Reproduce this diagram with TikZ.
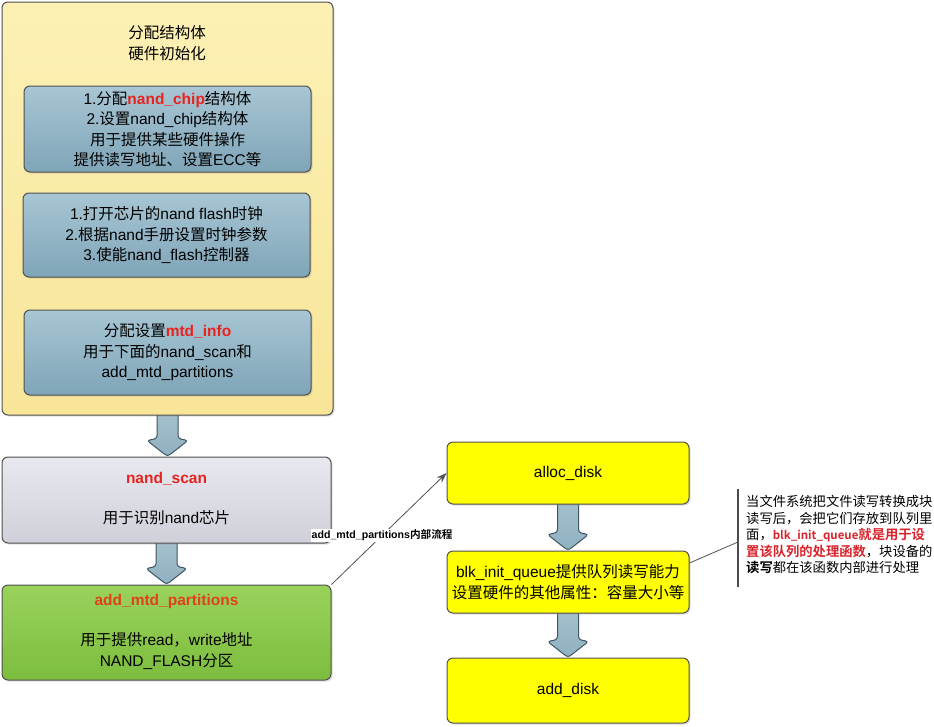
\documentclass[tikz,border=0pt]{standalone}
\usepackage{fontspec}
\setmainfont{Noto Sans CJK SC}[BoldFont={Noto Sans CJK SC Bold}]
\newfontfamily\lat{Liberation Sans}
\usetikzlibrary{calc,shadows,arrows.meta}
\pgfdeclarelayer{background}
\pgfsetlayers{background,main}
\definecolor{boxline}{HTML}{505050}
\definecolor{ylwtop}{HTML}{FCF0B4}
\definecolor{ylwbot}{HTML}{F8E598}
\definecolor{bluetop}{HTML}{A8C6D4}
\definecolor{bluebot}{HTML}{7FA5B8}
\definecolor{graytop}{HTML}{E8E8EF}
\definecolor{graybot}{HTML}{D0D0DA}
\definecolor{greentop}{HTML}{9AD25C}
\definecolor{greenbot}{HTML}{7CBD3E}
\definecolor{pureyellow}{HTML}{FFFF00}
\definecolor{redtxt}{HTML}{E8221E}
\definecolor{orangered}{HTML}{E0401A}
\definecolor{arrowfill}{HTML}{8FB1C1}
\definecolor{arrowline}{HTML}{3F5560}
\definecolor{annred}{HTML}{D8242C}
\newcommand\lt[1]{{\lat #1}}
\newcommand\barrow[2]{%
  \draw[blockarrow] let \p1=(#1.south), \p2=(#2.north) in
    (\x1-10.5pt,\y1+4pt) -- (\x1-10.5pt,\y2+18pt) -- (\x1-20.5pt,\y2+16pt) --
    (\x1,\y2) -- (\x1+20.5pt,\y2+16pt) -- (\x1+10.5pt,\y2+18pt) --
    (\x1+10.5pt,\y1+4pt) -- cycle;}
\begin{document}
\begin{tikzpicture}[x=1pt,y=-1pt,
  every node/.style={font=\fontsize{15.5}{20.5}\selectfont, align=center, inner sep=0pt},
  box/.style={draw=boxline, line width=1pt, rounded corners=6pt,
    drop shadow={shadow xshift=1.5pt, shadow yshift=-1.5pt, opacity=0.25}},
  bigbox/.style={box, top color=ylwtop, bottom color=ylwbot,
    minimum width=331pt, minimum height=413pt},
  innerbox/.style={box, top color=bluetop, bottom color=bluebot,
    minimum width=287pt, minimum height=85pt},
  scanbox/.style={box, top color=graytop, bottom color=graybot,
    minimum width=329pt, minimum height=86pt},
  mtdbox/.style={box, top color=greentop, bottom color=greenbot,
    minimum width=329pt, minimum height=95pt},
  ybox/.style={box, fill=pureyellow, draw=boxline,
    minimum width=242pt, minimum height=62pt},
  blockarrow/.style={draw=arrowline, line width=1pt, rounded corners=3pt,
    top color=arrowfill!80!white, bottom color=arrowfill},
  thin/.style={draw=boxline, line width=0.8pt},
]
\useasboundingbox (0,0) rectangle (934,726);

% left column
\node[bigbox] (init) at (167.5,208.5) {};
\node (inittitle) at (167,43) {分配结构体\\硬件初始化};
\node[innerbox, minimum height=86pt] (chip) at (167.5,129)
  {\lt{1.}分配\textbf{\color{redtxt}\lt{nand\_chip}}结构体\\\lt{2.}设置\lt{nand\_chip}结构体\\用于提供某些硬件操作\\提供读写地址、设置\lt{ECC}等};
\node[innerbox, minimum height=84pt] (clock) at (166.5,235)
  {\lt{1.}打开芯片的\lt{nand flash}时钟\\\lt{2.}根据\lt{nand}手册设置时钟参数\\\lt{3.}使能\lt{nand\_flash}控制器};
\node[innerbox] (mtdinfo) at (167.5,352.5)
  {分配设置\textbf{\color{redtxt}\lt{mtd\_info}}\\用于下面的\lt{nand\_scan}和\\\lt{add\_mtd\_partitions}};

\node[scanbox] (scan) at (166.5,500) {};
\node[font=\fontsize{15.5}{18}\selectfont\bfseries\lat, text=redtxt] (scantitle) at (166.5,479) {nand\_scan};
\node (scantext) at (166.5,518) {用于识别\lt{nand}芯片};

\node[mtdbox] (mtd) at (166.5,632.5) {};
\node[font=\fontsize{15.5}{18}\selectfont\bfseries\lat, text=orangered] (mtdtitle) at (166.5,601) {add\_mtd\_partitions};
\node (mtdtext) at (166.5,651) {用于提供\lt{read}，\lt{write}地址\\\lt{NAND\_FLASH}分区};

% right column
\node[ybox] (alloc) at (568,473) {\lt{alloc\_disk}};
\node[ybox] (blk) at (568,582) {\lt{blk\_init\_queue}提供队列读写能力\\设置硬件的其他属性：容量大小等};
\node[ybox, minimum height=65pt] (adddisk) at (568,690.5) {\lt{add\_disk}};

% block arrows
\begin{pgfonlayer}{background}
\barrow{init}{scan}
\barrow{scan}{mtd}
\barrow{alloc}{blk}
\barrow{blk}{adddisk}
\end{pgfonlayer}

% thin arrow with label
\draw[thin, -{Stealth[length=10pt,width=7pt]}] (mtd.north east) -- (alloc.west)
  node[pos=0.44, fill=white, inner sep=1pt,
       font=\fontsize{10.6}{12}\selectfont\bfseries] (flowlabel) {\lt{add\_mtd\_partitions}内部流程};

% annotation
\coordinate (bractop) at (738,489);
\coordinate (bracbot) at (738,587);
\coordinate (bracmid) at (738,542);
\draw[thin, line width=1.2pt, draw=black!70] (bractop) -- (bracbot);
\draw[thin] ([yshift=19pt]blk.east) -- (bracmid);
\node[anchor=north west, align=left, font=\fontsize{13.3}{16.6}\selectfont] (note) at (746,495)
  {当文件系统把文件读写转换成块\\读写后，会把它们存放到队列里\\面，\textbf{\color{annred}{\fontsize{11.5}{16.6}\selectfont blk\_init\_queue}就是用于设}\\\textbf{\color{annred}置该队列的处理函数}，块设备的\\\textbf{读写}都在该函数内部进行处理};
\end{tikzpicture}
\end{document}
